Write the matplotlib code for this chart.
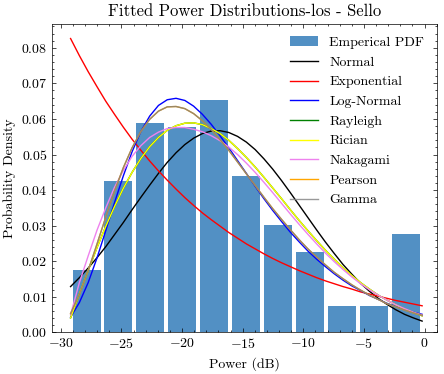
import matplotlib
matplotlib.use('Agg')
import matplotlib.pyplot as plt

# histogram of received power (density)
bin_centers = [-27.88, -25.25, -22.61, -19.97, -17.34, -14.70, -12.06, -9.43, -6.79, -4.15, -1.52]
emp_pdf = [0.0176, 0.0426, 0.0589, 0.0577, 0.0653, 0.0440, 0.0302, 0.0226, 0.0074, 0.0074, 0.0277]
bin_width = 2.636

# fitted pdf curves sampled along the power axis
power_grid = [-29.2, -28.475, -27.75, -27.025, -26.3, -25.575, -24.85, -24.125, -23.4, -22.675,
              -21.95, -21.225, -20.5, -19.775, -19.05, -18.325, -17.6, -16.875, -16.15, -15.425,
              -14.7, -13.975, -13.25, -12.525, -11.8, -11.075, -10.35, -9.625, -8.9, -8.175,
              -7.45, -6.725, -6.0, -5.275, -4.55, -3.825, -3.1, -2.375, -1.65, -0.925, -0.2]
normal_pdf = [0.0129, 0.0154, 0.0181, 0.0210, 0.0241, 0.0275, 0.0309, 0.0345, 0.0380, 0.0414,
              0.0447, 0.0478, 0.0505, 0.0528, 0.0546, 0.0559, 0.0566, 0.0567, 0.0562, 0.0551,
              0.0535, 0.0514, 0.0488, 0.0459, 0.0427, 0.0393, 0.0358, 0.0323, 0.0288, 0.0254,
              0.0222, 0.0191, 0.0164, 0.0138, 0.0116, 0.0096, 0.0079, 0.0064, 0.0051, 0.0041, 0.0032]
expon_pdf = [0.0826, 0.0778, 0.0733, 0.0691, 0.0650, 0.0613, 0.0577, 0.0543, 0.0512, 0.0482,
             0.0454, 0.0428, 0.0403, 0.0379, 0.0357, 0.0336, 0.0317, 0.0299, 0.0281, 0.0265,
             0.0249, 0.0235, 0.0221, 0.0208, 0.0196, 0.0185, 0.0174, 0.0164, 0.0154, 0.0145,
             0.0137, 0.0129, 0.0122, 0.0114, 0.0108, 0.0102, 0.0096, 0.0090, 0.0085, 0.0080, 0.0075]
lognorm_pdf = [0.0043, 0.0084, 0.0140, 0.0209, 0.0286, 0.0365, 0.0440, 0.0508, 0.0565, 0.0608,
               0.0638, 0.0654, 0.0658, 0.0652, 0.0636, 0.0613, 0.0585, 0.0553, 0.0519, 0.0483,
               0.0447, 0.0411, 0.0376, 0.0343, 0.0312, 0.0282, 0.0255, 0.0229, 0.0206, 0.0185,
               0.0165, 0.0147, 0.0131, 0.0118, 0.0104, 0.0093, 0.0082, 0.0073, 0.0065, 0.0057, 0.0051]
rayleigh_pdf = [0.0041, 0.0108, 0.0174, 0.0238, 0.0298, 0.0354, 0.0405, 0.0450, 0.0489, 0.0522,
                0.0548, 0.0568, 0.0581, 0.0588, 0.0589, 0.0584, 0.0573, 0.0559, 0.0540, 0.0517,
                0.0492, 0.0465, 0.0436, 0.0406, 0.0376, 0.0345, 0.0315, 0.0286, 0.0258, 0.0231,
                0.0206, 0.0182, 0.0160, 0.0140, 0.0122, 0.0105, 0.0091, 0.0078, 0.0066, 0.0056, 0.0047]
rician_pdf = [0.0041, 0.0108, 0.0174, 0.0238, 0.0298, 0.0354, 0.0405, 0.0450, 0.0489, 0.0522,
              0.0548, 0.0568, 0.0581, 0.0588, 0.0589, 0.0584, 0.0573, 0.0559, 0.0540, 0.0517,
              0.0492, 0.0465, 0.0436, 0.0406, 0.0376, 0.0345, 0.0315, 0.0286, 0.0258, 0.0231,
              0.0206, 0.0182, 0.0160, 0.0140, 0.0122, 0.0105, 0.0091, 0.0078, 0.0066, 0.0056, 0.0047]
nakagami_pdf = [0.0050, 0.0140, 0.0215, 0.0287, 0.0350, 0.0408, 0.0455, 0.0495, 0.0525, 0.0548,
                0.0563, 0.0573, 0.0576, 0.0576, 0.0571, 0.0564, 0.0553, 0.0539, 0.0521, 0.0500,
                0.0476, 0.0450, 0.0422, 0.0393, 0.0363, 0.0333, 0.0304, 0.0276, 0.0249, 0.0223,
                0.0199, 0.0177, 0.0156, 0.0137, 0.0120, 0.0105, 0.0091, 0.0078, 0.0067, 0.0057, 0.0049]
pearson_pdf = [0.0053, 0.0107, 0.0174, 0.0248, 0.0324, 0.0397, 0.0463, 0.0519, 0.0565, 0.0599,
               0.0622, 0.0634, 0.0635, 0.0629, 0.0615, 0.0595, 0.0571, 0.0542, 0.0512, 0.0479,
               0.0446, 0.0413, 0.0380, 0.0348, 0.0318, 0.0289, 0.0261, 0.0235, 0.0212, 0.0190,
               0.0169, 0.0151, 0.0134, 0.0119, 0.0105, 0.0093, 0.0081, 0.0072, 0.0063, 0.0055, 0.0048]
gamma_pdf = [0.0053, 0.0107, 0.0174, 0.0248, 0.0324, 0.0397, 0.0463, 0.0519, 0.0565, 0.0599,
             0.0622, 0.0634, 0.0635, 0.0629, 0.0615, 0.0595, 0.0571, 0.0542, 0.0512, 0.0479,
             0.0446, 0.0413, 0.0380, 0.0348, 0.0318, 0.0289, 0.0261, 0.0235, 0.0212, 0.0190,
             0.0169, 0.0151, 0.0134, 0.0119, 0.0105, 0.0093, 0.0081, 0.0072, 0.0063, 0.0055, 0.0048]

curves = [
    ('Normal', normal_pdf, 'black', 1.0),
    ('Exponential', expon_pdf, 'red', 1.0),
    ('Log-Normal', lognorm_pdf, 'blue', 1.0),
    ('Rayleigh', rayleigh_pdf, 'green', 1.0),
    ('Rician', rician_pdf, 'yellow', 1.0),
    ('Nakagami', nakagami_pdf, 'violet', 1.0),
    ('Pearson', pearson_pdf, 'orange', 1.0),
    ('Gamma', gamma_pdf, 'gray', 0.8),
]

plt.rcParams.update({
    'font.family': 'serif',
    'font.serif': ['cmr10'],
    'mathtext.fontset': 'cm',
    'axes.formatter.use_mathtext': True,
    'font.size': 10,
    'axes.linewidth': 0.5,
    'xtick.direction': 'in', 'ytick.direction': 'in',
    'xtick.top': True, 'ytick.right': True,
    'xtick.minor.visible': True, 'ytick.minor.visible': True,
    'xtick.major.size': 3, 'ytick.major.size': 3,
    'xtick.minor.size': 1.5, 'ytick.minor.size': 1.5,
    'xtick.major.width': 0.5, 'ytick.major.width': 0.5,
    'xtick.minor.width': 0.5, 'ytick.minor.width': 0.5,
    'legend.frameon': False,
})

fig = plt.figure(figsize=(4.44, 3.74), dpi=100)
fig.subplots_adjust(left=0.118, right=0.9835, bottom=0.111, top=0.936)
ax = fig.add_subplot(111)

ax.bar(bin_centers, emp_pdf, width=bin_width * 0.875, color='#5290c4', label='Emperical PDF')
for name, vals, col, a in curves:
    ax.plot(power_grid, vals, color=col, lw=1.0, alpha=a, label=name)

ax.set_xlim(-30.7, 1.0)
ax.set_ylim(0, 0.0867)
ax.set_title('Fitted Power Distributions-los - Sello')
ax.set_xlabel('Power (dB)')
ax.set_ylabel('Probability Density')

# histogram entry goes first in the legend
handles, labels = ax.get_legend_handles_labels()
handles = handles[-1:] + handles[:-1]
labels = labels[-1:] + labels[:-1]
ax.legend(handles, labels, loc='upper right')

fig.savefig('out.png', dpi=100)
